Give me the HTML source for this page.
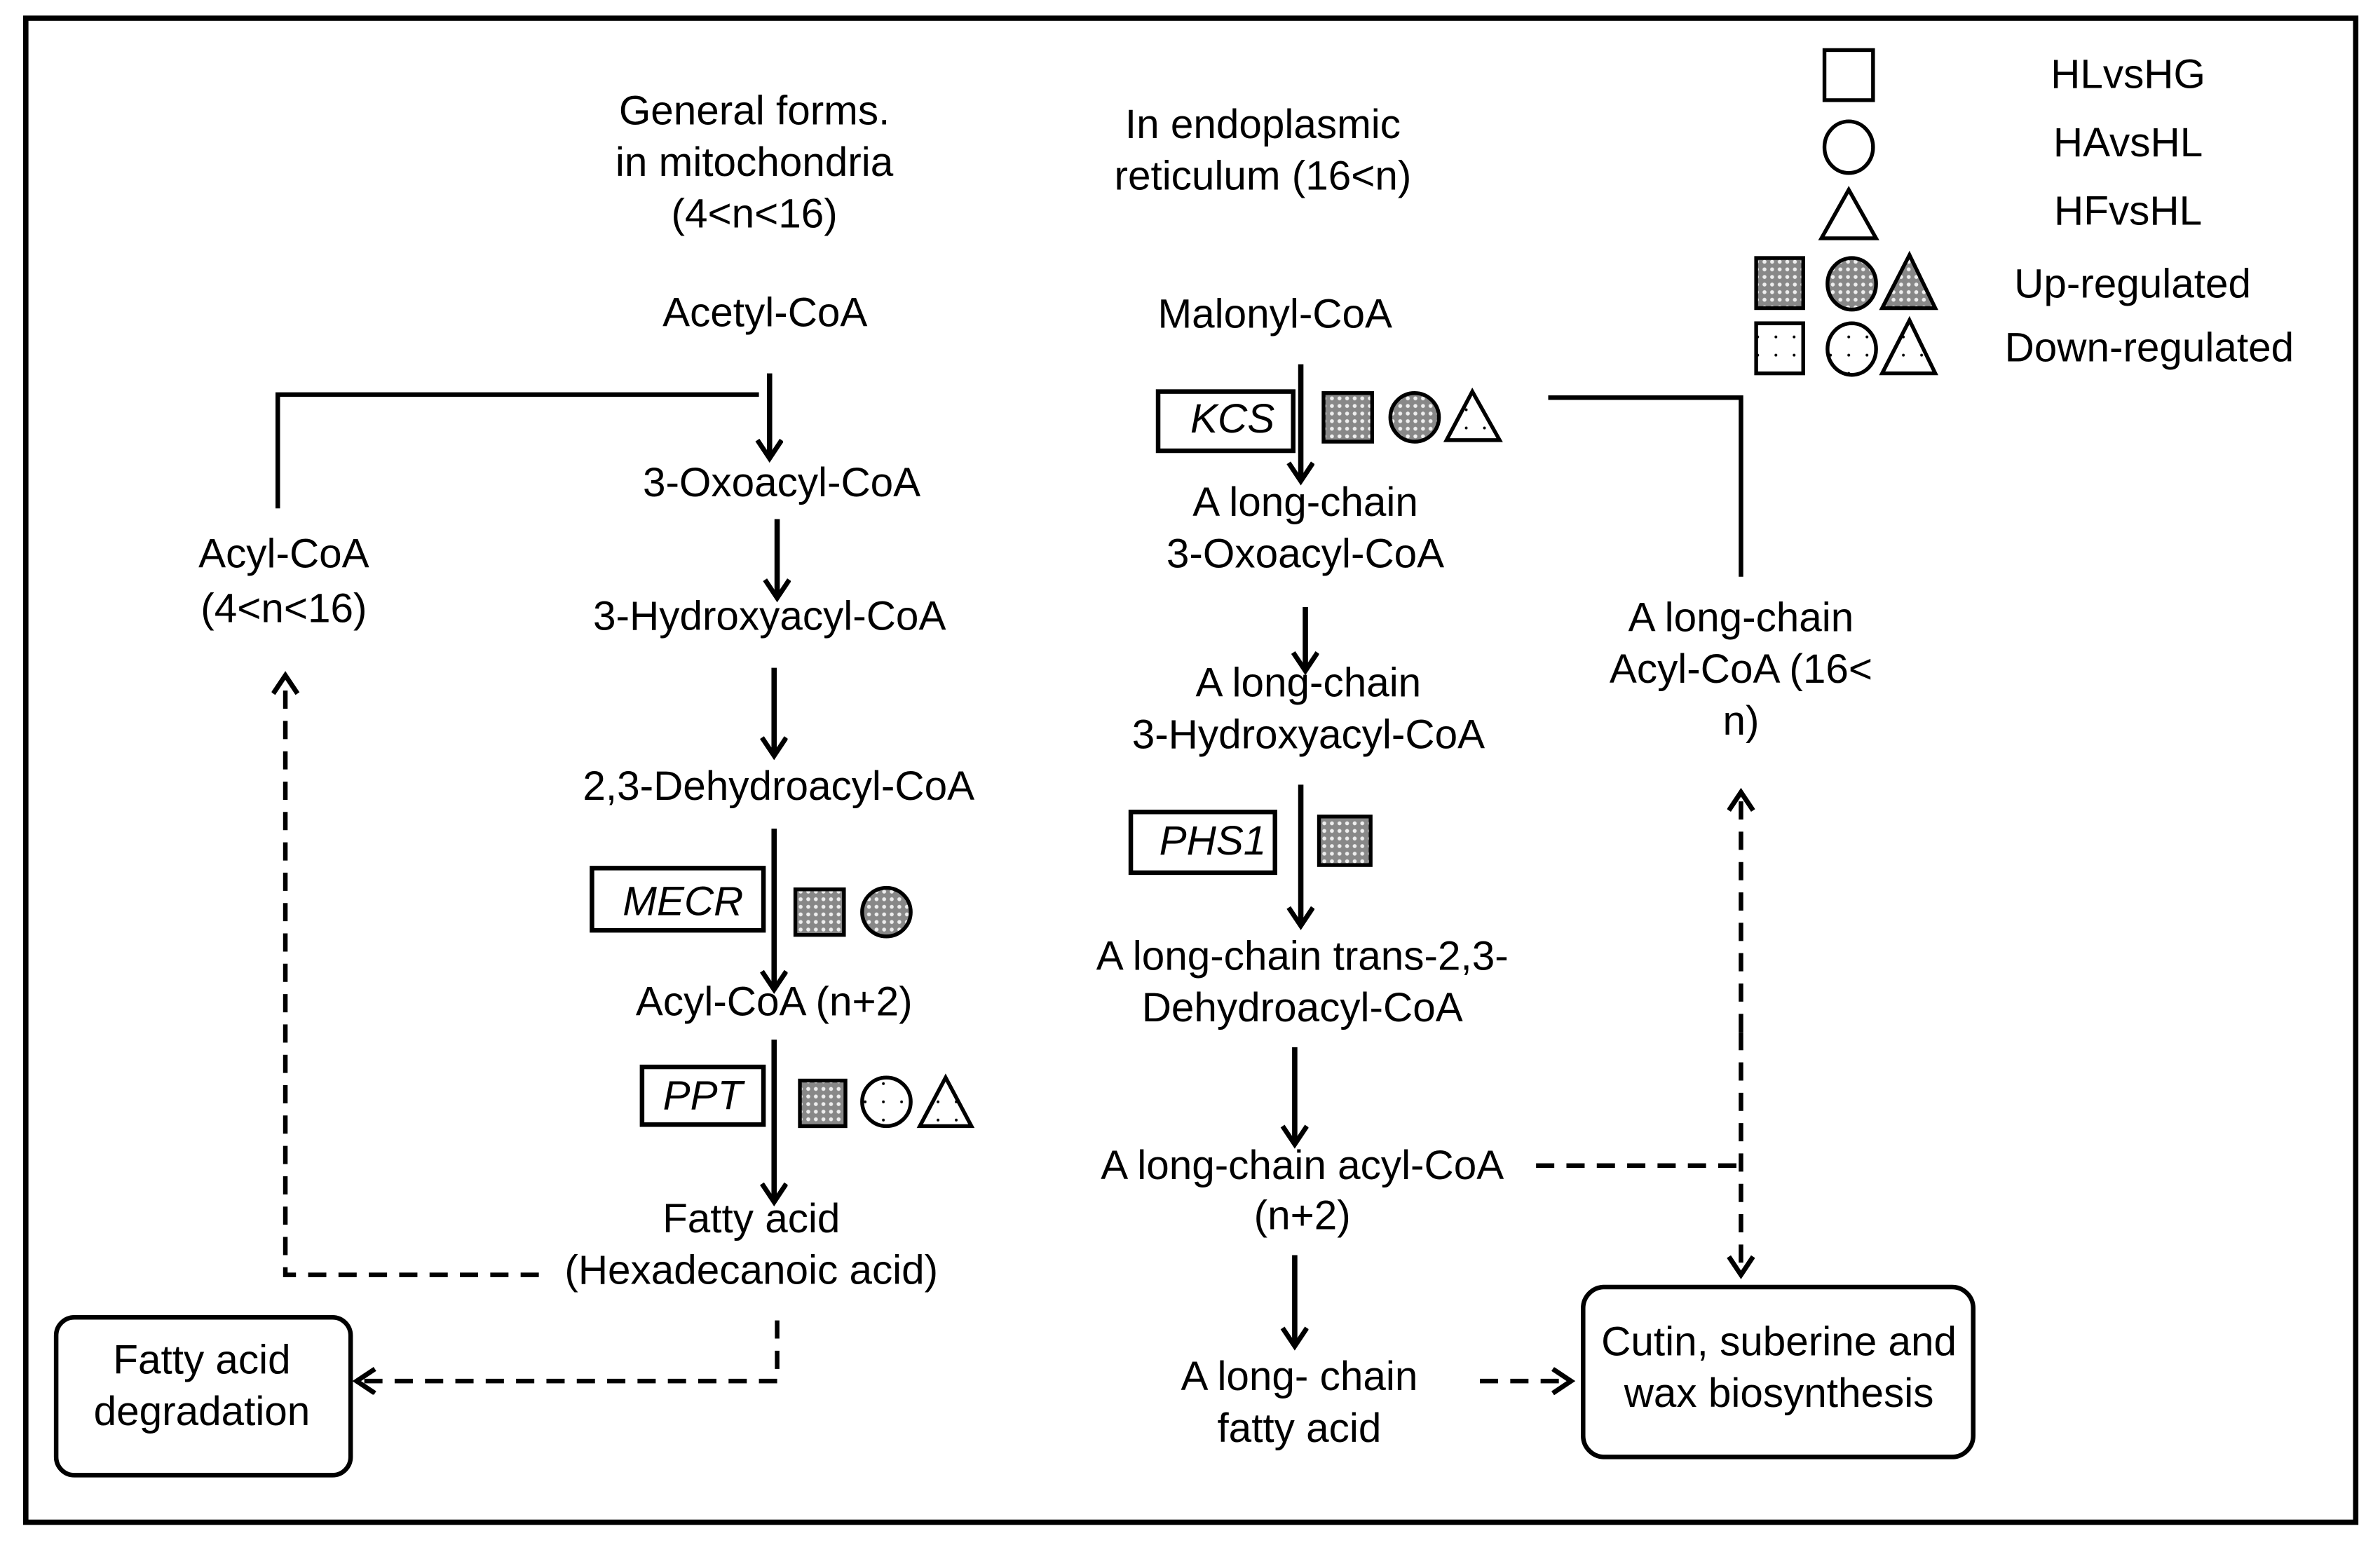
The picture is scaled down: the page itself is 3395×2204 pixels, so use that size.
<!DOCTYPE html>
<html><head><meta charset="utf-8"><style>html,body{margin:0;padding:0;background:#fff}svg{display:block}
text{font-family:"Liberation Sans",Arial,Helvetica,sans-serif;font-size:27px}</style></head>
<body>
<svg width="3395" height="2204" viewBox="0 0 1568 1018" preserveAspectRatio="none" xmlns="http://www.w3.org/2000/svg">
<defs>
<pattern id="up" width="5" height="5" patternUnits="userSpaceOnUse"><rect width="5" height="5" fill="#888"/><circle cx="2.5" cy="2.5" r="1.3" fill="#eee"/></pattern>
<pattern id="dn" width="12" height="12" patternUnits="userSpaceOnUse"><rect width="12" height="12" fill="#fff"/><circle cx="6" cy="6" r="0.9" fill="#000"/></pattern>
<marker id="ah" markerWidth="20" markerHeight="20" refX="14" refY="9" orient="auto" markerUnits="userSpaceOnUse"><path d="M2,1 L14,9 L2,17" fill="none" stroke="#000" stroke-width="3.2"/></marker>
</defs>
<rect width="1568" height="1018" fill="#fff"/>
<rect x="17" y="12" width="1535" height="991" fill="none" stroke="#000" stroke-width="3.5"/>
<g text-anchor="middle" fill="#000">
<text x="497" y="82">General forms.</text><text x="497" y="116">in mitochondria</text><text x="497" y="150">(4&lt;n&lt;16)</text>
<text x="832" y="91">In endoplasmic</text><text x="832" y="125">reticulum (16&lt;n)</text>
<text x="504" y="215">Acetyl-CoA</text>
<text x="515" y="327">3-Oxoacyl-CoA</text>
<text x="507" y="415">3-Hydroxyacyl-CoA</text>
<text x="513" y="527">2,3-Dehydroacyl-CoA</text>
<text x="510" y="669">Acyl-CoA (n+2)</text>
<text x="495" y="812">Fatty acid</text><text x="495" y="846">(Hexadecanoic acid)</text>
<text x="187" y="374">Acyl-CoA</text><text x="187" y="410">(4&lt;n&lt;16)</text>
<text x="133" y="905">Fatty acid</text><text x="133" y="939">degradation</text>
<text x="840" y="216">Malonyl-CoA</text>
<text x="860" y="340">A long-chain</text><text x="860" y="374">3-Oxoacyl-CoA</text>
<text x="862" y="459">A long-chain</text><text x="862" y="493">3-Hydroxyacyl-CoA</text>
<text x="858" y="639">A long-chain trans-2,3-</text><text x="858" y="673">Dehydroacyl-CoA</text>
<text x="858" y="777">A long-chain acyl-CoA</text><text x="858" y="810">(n+2)</text>
<text x="856" y="916">A long- chain</text><text x="856" y="950">fatty acid</text>
<text x="1172" y="893">Cutin, suberine and</text><text x="1172" y="927">wax biosynthesis</text>
<text x="1147" y="416">A long-chain</text><text x="1147" y="450">Acyl-CoA (16&lt;</text><text x="1147" y="484">n)</text>
<text x="1402" y="58">HLvsHG</text><text x="1402" y="103">HAvsHL</text><text x="1402" y="148">HFvsHL</text>
<text x="1405" y="196">Up-regulated</text><text x="1416" y="238">Down-regulated</text>
<g font-style="italic"><text x="450" y="603">MECR</text><text x="463" y="731">PPT</text><text x="812" y="285">KCS</text><text x="799" y="563">PHS1</text></g>
</g>
<g fill="none" stroke="#000" stroke-width="3">
<rect x="37" y="868" width="194" height="104" rx="12"/>
<rect x="1043" y="848" width="257" height="112" rx="14"/>
<rect x="390" y="572" width="113" height="41"/>
<rect x="423" y="703" width="80" height="38"/>
<rect x="763" y="258" width="89" height="39"/>
<rect x="745" y="535" width="95" height="40"/>
<g stroke-width="3.5">
<line x1="507" y1="246" x2="507" y2="302" marker-end="url(#ah)"/>
<line x1="512" y1="342" x2="512" y2="394" marker-end="url(#ah)"/>
<line x1="510" y1="440" x2="510" y2="498" marker-end="url(#ah)"/>
<line x1="510" y1="546" x2="510" y2="652" marker-end="url(#ah)"/>
<line x1="510" y1="685" x2="510" y2="792" marker-end="url(#ah)"/>
<line x1="857" y1="240" x2="857" y2="317" marker-end="url(#ah)"/>
<line x1="860" y1="400" x2="860" y2="442" marker-end="url(#ah)"/>
<line x1="857" y1="517" x2="857" y2="610" marker-end="url(#ah)"/>
<line x1="853" y1="690" x2="853" y2="754" marker-end="url(#ah)"/>
<line x1="853" y1="827" x2="853" y2="887" marker-end="url(#ah)"/>
</g>
<polyline points="183,335 183,260 500,260"/>
<polyline points="1020,262 1147,262 1147,380"/>
<g stroke-dasharray="12,8">
<polyline points="355,840 188,840 188,445" marker-end="url(#ah)"/>
<polyline points="512,870 512,910 235,910" marker-end="url(#ah)"/>
<line x1="1147" y1="680" x2="1147" y2="522" marker-end="url(#ah)"/>
<line x1="1147" y1="680" x2="1147" y2="840" marker-end="url(#ah)"/>
<line x1="1012" y1="768" x2="1147" y2="768"/>
<line x1="975" y1="910" x2="1035" y2="910" marker-end="url(#ah)"/>
</g>
</g>
<g stroke="#000" stroke-width="2.5">
<rect x="524" y="586" width="32" height="30" fill="url(#up)"/>
<circle cx="584" cy="601" r="16" fill="url(#up)"/>
<rect x="527" y="712" width="30" height="30" fill="url(#up)"/>
<circle cx="584" cy="726" r="16" fill="url(#dn)"/>
<polygon points="623,710 606,742 640,742" fill="url(#dn)"/>
<rect x="872" y="259" width="32" height="32" fill="url(#up)"/>
<circle cx="932" cy="275" r="16" fill="url(#up)"/>
<polygon points="970,258 953,290 988,290" fill="url(#dn)"/>
<rect x="869" y="538" width="34" height="32" fill="url(#up)"/>
<rect x="1202" y="33" width="32" height="33" fill="#fff"/>
<ellipse cx="1218" cy="97" rx="16" ry="17" fill="#fff"/>
<polygon points="1218,125 1200,157 1236,157" fill="#fff"/>
<rect x="1157" y="170" width="31" height="33" fill="url(#up)"/>
<ellipse cx="1220" cy="187" rx="16" ry="17" fill="url(#up)"/>
<polygon points="1258,168 1240,203 1275,203" fill="url(#up)"/>
<rect x="1157" y="213" width="31" height="33" fill="url(#dn)"/>
<ellipse cx="1220" cy="230" rx="16" ry="17" fill="url(#dn)"/>
<polygon points="1258,211 1240,246 1275,246" fill="url(#dn)"/>
</g>
</svg>
</body></html>
